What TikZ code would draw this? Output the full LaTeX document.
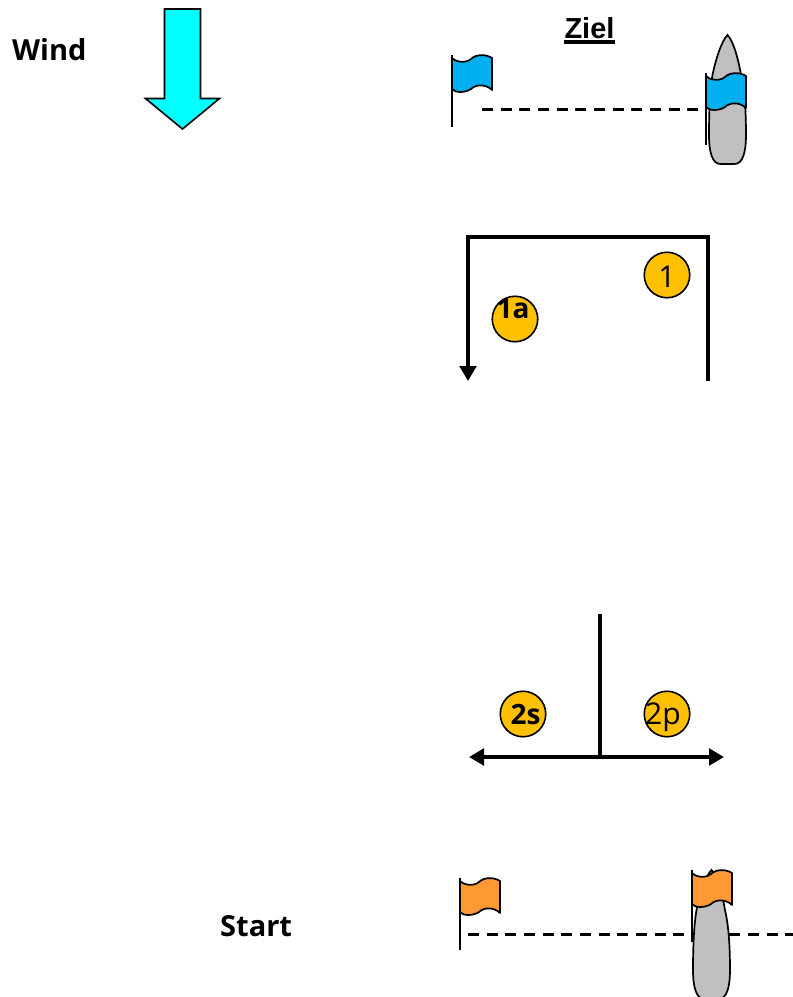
\documentclass[tikz,border=0pt]{standalone}
\usepackage{fontspec}
\setmainfont{Open Sans}
\newfontfamily\arialfont{Liberation Sans}
\usetikzlibrary{arrows.meta}
\tikzset{
  flagcloth/.style={draw=black,line width=1.7pt,line join=round},
  pole/.style={draw=black,line width=1.6pt},
  hull/.style={draw=black,line width=1.7pt,fill=hullgray},
  dashline/.style={draw=black,line width=3pt,dash pattern=on 11pt off 7.67pt},
  route/.style={draw=black,line width=4.5pt},
  routearrow/.style={route,-{Triangle[length=15pt,width=16.5pt]}},
  buoy/.style={circle,draw=black,line width=1.6pt,fill=buoyyellow,minimum size=45.5pt,inner sep=0pt},
  buoytext/.style={font=\fontsize{30}{30}\selectfont,inner sep=0pt,anchor=base},
  buoybold/.style={font=\fontsize{28}{28}\selectfont\bfseries,inner sep=0pt,anchor=base},
  lbl/.style={font=\fontsize{29}{29}\selectfont\bfseries,inner sep=0pt,anchor=base west},
  pics/flag/.style={code={
    \draw[pole] (0,0) -- (0,72);
    \draw[flagcloth,fill=#1] (0,3) .. controls (3,6.5) and (13,9) .. (19,4)
      .. controls (24,-1) and (34,-1) .. (40,3) -- (40,35)
      .. controls (34,29) and (24,29) .. (19,34)
      .. controls (13,38) and (3,38) .. (0,34) -- cycle;
  }},
  pics/boat/.style={code={
    \draw[hull] (0,0) .. controls (-6,6) and (-12,25) .. (-15,40)
      .. controls (-17.5,55) and (-18.5,75) .. (-18.5,100)
      .. controls (-18.5,118) and (-15,129) .. (-7,129)
      -- (7,129) .. controls (15,129) and (18.5,118) .. (18.5,100)
      .. controls (18.5,75) and (17,55) .. (13.5,40)
      .. controls (11,25) and (6,6) .. (0,0) -- cycle;
  }}
}
\definecolor{hullgray}{RGB}{192,192,192}
\definecolor{buoyyellow}{RGB}{255,192,0}
\definecolor{flagblue}{RGB}{0,176,240}
\definecolor{flagorange}{RGB}{255,153,51}
\definecolor{windcyan}{RGB}{0,255,255}
\begin{document}
\begin{tikzpicture}[x=1pt,y=-1pt]
\useasboundingbox (0,0) rectangle (793,997);
% labels
\node[lbl] (wind) at (12,60) {Wind};
\node[lbl] (start) at (220,936) {Start};
\node[font=\arialfont\fontsize{29}{29}\selectfont\bfseries,anchor=base,inner sep=0pt] (ziel) at (589.5,38.5) {Ziel};
\draw[black,line width=3.2pt] (564,42) -- (615,42);
\draw[draw=black,line width=1.6pt,fill=windcyan,line join=miter]
  (164.5,9) -- (200.5,9) -- (200.5,98.5) -- (219.5,98.5) -- (182.5,129) -- (145.5,98.5) -- (164.5,98.5) -- cycle;
% finish line
\coordinate (fa) at (482,109);
\coordinate (fb) at (699,109);
\draw[dashline] (fa) -- (fb);
\pic at (727.5,35) {boat};
\pic at (452,55) {flag=flagblue};
\pic at (706,73) {flag=flagblue};
% start line
\coordinate (sa) at (468,934);
\coordinate (sb) at (793,934);
\draw[dashline] (sa) -- (sb);
\pic at (711.5,870) {boat};
\pic at (460,878) {flag=flagorange};
\pic at (692,870) {flag=flagorange};
% route 1
\node[buoy] (b1) at (667,275) {};
\node[buoytext] (t1) at (667,287) {1};
\node[buoy] (b1a) at (515,319) {};
\node[buoybold] (t1a) at (513,318) {1a};
\coordinate (ptl) at (468,237);
\coordinate (ptr) at (708,237);
\coordinate (pl) at (468,381);
\coordinate (pr) at (708,381);
\draw[route,line cap=butt] (ptr) -- (pr);
\draw[route,line cap=butt] ([xshift=-2pt]ptl) -- ([xshift=2pt]ptr);
\draw[routearrow] (ptl) -- (pl);
% route 2
\node[buoy] (b2s) at (523,714) {};
\node[buoybold] (t2s) at (525.5,724) {2s};
\node[buoy] (b2p) at (667,714) {};
\node[buoytext] (t2p) at (663,724) {2p};
\coordinate (tt) at (600,614);
\coordinate (tm) at (600,757);
\coordinate (tl) at (469,757);
\coordinate (tr) at (724,757);
\draw[route] (tt) -- ([yshift=2pt]tm);
\draw[routearrow] (tm) -- (tl);
\draw[routearrow] (tm) -- (tr);
\end{tikzpicture}
\end{document}
